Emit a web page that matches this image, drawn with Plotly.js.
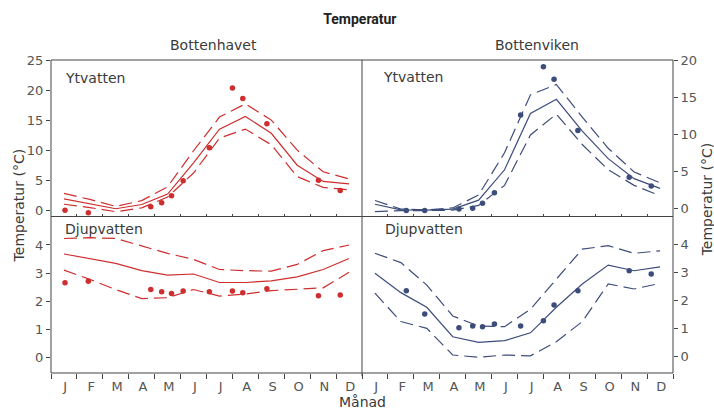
<!DOCTYPE html>
<html><head><meta charset="utf-8">
<script src="https://cdn.plot.ly/plotly-3.0.1.min.js"></script>
<style>html,body{margin:0;padding:0;background:#fff;}#chart{width:714px;height:411px;}</style>
</head><body><div id="chart"></div>
<script>
// ---- categories / ticks ----
const months = ["J","F","M","A","M","J","J","A","S","O","N","D"];
const monthMid = months.map((m, i) => i + 0.5);
const monthLabelPos = months.map((m, i) => i + 0.55);
const monthEdges = [1,2,3,4,5,6,7,8,9,10,11];
const yTicksHavetYt = [0,5,10,15,20,25];
const yTicksVikenYt = [0,5,10,15,20];
const yTicksDjup = [0,1,2,3,4];

// ---- Bottenhavet, Ytvatten ----
const havetYtMean  = [1.9, 1.1, 0.25, 0.95, 2.7, 7.9, 13.5, 15.6, 12.8, 7.5, 4.8, 4.4];
const havetYtUpper = [2.8, 1.8, 0.65, 1.6, 3.9, 9.9, 15.5, 17.7, 15.0, 10.0, 6.4, 5.2];
const havetYtLower = [1.0, 0.45, -0.25, 0.4, 2.2, 6.2, 12.0, 13.5, 10.9, 5.6, 3.8, 3.4];
const havetObsDate = [0.54, 1.44, 3.85, 4.27, 4.65, 5.1, 6.11, 7.0, 7.4, 8.33, 10.32, 11.16];
const havetYtObs   = [0.0, -0.4, 0.6, 1.25, 2.4, 4.9, 10.4, 20.35, 18.6, 14.4, 5.0, 3.3];

// ---- Bottenviken, Ytvatten ----
const vikenYtMean  = [0.55, -0.2, -0.25, -0.1, 1.1, 5.2, 12.8, 14.7, 10.4, 6.7, 4.0, 2.7];
const vikenYtUpper = [1.05, -0.1, -0.2, 0.05, 1.8, 7.5, 15.3, 16.7, 12.3, 8.1, 4.9, 3.45];
const vikenYtLower = [-0.45, -0.3, -0.3, -0.25, 0.4, 3.1, 9.9, 12.7, 8.6, 5.2, 3.1, 1.7];
const vikenObsDate = [1.71, 2.42, 3.74, 4.27, 4.65, 5.11, 6.12, 7.0, 7.41, 8.33, 10.31, 11.16];
const vikenYtObs   = [-0.3, -0.3, -0.1, 0.0, 0.7, 2.1, 12.6, 19.1, 17.4, 10.5, 4.2, 3.0];

// ---- Bottenhavet, Djupvatten ----
const havetDjMean  = [3.68, 3.52, 3.35, 3.09, 2.93, 2.97, 2.67, 2.67, 2.73, 2.87, 3.13, 3.52];
const havetDjUpper = [4.23, 4.26, 4.23, 3.96, 3.7, 3.49, 3.13, 3.09, 3.07, 3.31, 3.8, 4.0];
const havetDjLower = [3.11, 2.78, 2.42, 2.1, 2.13, 2.42, 2.19, 2.26, 2.38, 2.44, 2.48, 3.03];
const havetDjObs   = [2.66, 2.71, 2.42, 2.34, 2.28, 2.37, 2.34, 2.37, 2.31, 2.45, 2.2, 2.23];

// ---- Bottenviken, Djupvatten ----
const vikenDjMean  = [2.97, 2.28, 1.76, 0.71, 0.51, 0.57, 0.85, 1.76, 2.59, 3.26, 3.06, 3.2];
const vikenDjUpper = [3.68, 3.35, 2.55, 1.45, 1.09, 1.07, 1.69, 2.75, 3.83, 3.95, 3.68, 3.77];
const vikenDjLower = [2.26, 1.25, 1.01, 0.06, -0.02, 0.06, 0.03, 0.53, 1.25, 2.59, 2.41, 2.61];
const vikenDjObs   = [2.35, 1.52, 1.03, 1.09, 1.07, 1.16, 1.09, 1.28, 1.84, 2.35, 3.06, 2.94];

const RED = '#cf2e2e';
const BLUE = '#3d4d7b';
const AX = '#444';
const TXT = '#3a3a3a';
const FONT = 'DejaVu Sans, Liberation Sans, sans-serif';
const DASH = '13px,6px';

function panel(xa, ya, color, mean, upper, lower, obsX, obsY) {
  const base = {type: 'scatter', mode: 'lines', x: monthMid, xaxis: xa, yaxis: ya,
                hoverinfo: 'skip', showlegend: false};
  return [
    Object.assign({}, base, {y: upper, line: {color: color, width: 1.2, dash: DASH}}),
    Object.assign({}, base, {y: mean,  line: {color: color, width: 1.2}}),
    Object.assign({}, base, {y: lower, line: {color: color, width: 1.2, dash: DASH}}),
    {type: 'scatter', mode: 'markers', x: obsX, y: obsY, xaxis: xa, yaxis: ya,
     marker: {color: color, size: 5.5}, showlegend: false, hoverinfo: 'skip', cliponaxis: false}
  ];
}

const data = [].concat(
  panel('x3', 'y',  RED,  havetYtMean, havetYtUpper, havetYtLower, havetObsDate, havetYtObs),
  panel('x4', 'y2', BLUE, vikenYtMean, vikenYtUpper, vikenYtLower, vikenObsDate, vikenYtObs),
  panel('x',  'y3', RED,  havetDjMean, havetDjUpper, havetDjLower, havetObsDate, havetDjObs),
  panel('x2', 'y4', BLUE, vikenDjMean, vikenDjUpper, vikenDjLower, vikenObsDate, vikenDjObs)
);

const tickFont = {family: FONT, size: 13, color: '#555'};

function bottomX(domain, anchor) {
  return {domain: domain, anchor: anchor, range: [0, 12], showgrid: false, zeroline: false,
          showline: false, tickmode: 'array', tickvals: monthLabelPos, ticktext: months,
          ticks: '', tickfont: tickFont, ticklabelstandoff: 4,
          minor: {tickmode: 'linear', tick0: 0, dtick: 1, ticks: 'outside', ticklen: 5,
                  tickcolor: AX, tickwidth: 1, showgrid: false}};
}
function topX(domain, anchor) {
  return {domain: domain, anchor: anchor, range: [0, 12], showgrid: false, zeroline: false,
          showline: false, tickmode: 'array', tickvals: monthEdges, ticks: 'inside',
          ticklen: 3, tickcolor: AX, showticklabels: false};
}
function yax(domain, anchor, range, vals, side) {
  return {domain: domain, anchor: anchor, range: range, side: side, showgrid: false,
          zeroline: false, showline: false, tickmode: 'array', tickvals: vals,
          ticks: 'outside', ticklen: 4, tickcolor: AX, tickfont: tickFont};
}

function ann(text, x, y, opts) {
  return Object.assign({text: text, x: x, y: y, xref: 'paper', yref: 'paper',
    showarrow: false, xanchor: 'left', yanchor: 'middle',
    font: {family: FONT, size: 14, color: TXT}}, opts || {});
}

const layout = {
  width: 714, height: 411,
  margin: {l: 51, r: 41.3, t: 60, b: 38},
  paper_bgcolor: '#fff', plot_bgcolor: '#fff',
  title: {text: 'Temperatur', x: 0.504, xanchor: 'center', y: 0.954, yanchor: 'middle',
          font: {family: 'Roboto, sans-serif', size: 14, weight: 'bold', color: '#222'}},
  xaxis:  bottomX([0, 0.5], 'y3'),
  xaxis2: bottomX([0.5, 1], 'y4'),
  xaxis3: topX([0, 0.5], 'y'),
  xaxis4: topX([0.5, 1], 'y2'),
  yaxis:  yax([0.5, 1], 'x3', [-1.04, 25], yTicksHavetYt, 'left'),
  yaxis2: yax([0.5, 1], 'x4', [-1.1, 20], yTicksVikenYt, 'right'),
  yaxis3: yax([0, 0.5], 'x',  [-0.54, 5.01], yTicksDjup, 'left'),
  yaxis4: yax([0, 0.5], 'x2', [-0.58, 4.99], yTicksDjup, 'right'),
  shapes: [
    {type: 'rect', xref: 'paper', yref: 'paper', x0: 0, x1: 1, y0: 0, y1: 1,
     line: {color: AX, width: 1}},
    {type: 'line', xref: 'paper', yref: 'paper', x0: 0.5, x1: 0.5, y0: -0.01, y1: 1,
     line: {color: AX, width: 1}},
    {type: 'line', xref: 'paper', yref: 'paper', x0: 0, x1: 1, y0: 0.5, y1: 0.5,
     line: {color: AX, width: 1}}
  ],
  annotations: [
    ann('Bottenhavet', 0.2606, 1.048, {xanchor: 'center'}),
    ann('Bottenviken', 0.7817, 1.048, {xanchor: 'center'}),
    ann('Ytvatten', 0.0193, 0.9435),
    ann('Ytvatten', 0.5308, 0.9466),
    ann('Djupvatten', 0.0188, 0.4585),
    ann('Djupvatten', 0.5345, 0.4585),
    ann('Temperatur (°C)', -0.0523, 0.537, {xanchor: 'center', textangle: -90}),
    ann('Temperatur (°C)', 1.0552, 0.556, {xanchor: 'center', textangle: -90}),
    ann('Månad', 0.5002, -0.0927, {xanchor: 'center'})
  ]
};

Plotly.newPlot('chart', data, layout, {displayModeBar: false, staticPlot: true});
</script>
</body></html>
